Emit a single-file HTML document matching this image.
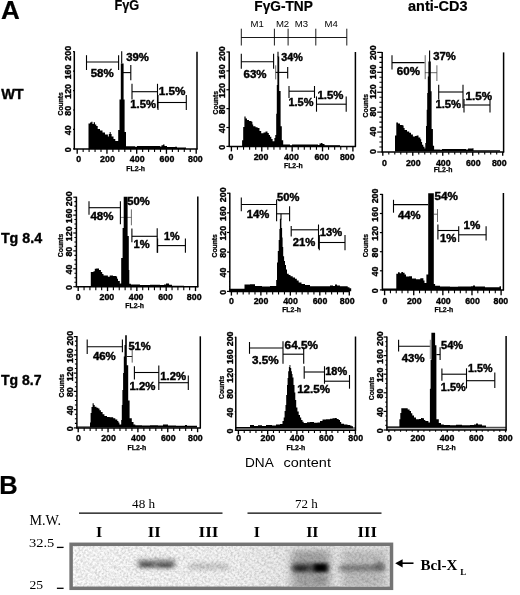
<!DOCTYPE html>
<html><head><meta charset="utf-8"><title>Figure</title>
<style>
html,body{margin:0;padding:0;background:#fff}
svg{display:block}
text{font-family:"Liberation Sans", sans-serif;fill:#000}
text.t{font-family:"Liberation Serif", serif}
</style></head><body>
<svg width="520" height="595" viewBox="0 0 520 595">
<rect width="520" height="595" fill="#fff"/>
<line x1="74.30" y1="51.20" x2="74.30" y2="149.40" stroke="#000" stroke-width="1.5"/>
<line x1="73.80" y1="148.90" x2="197.50" y2="148.90" stroke="#000" stroke-width="1.5"/>
<line x1="197.00" y1="51.70" x2="197.00" y2="149.40" stroke="#000" stroke-width="1.5"/>
<line x1="73.00" y1="148.90" x2="74.30" y2="148.90" stroke="#000" stroke-width="1.2"/>
<text x="71.40" y="149.70" font-size="8.8" font-weight="bold" text-anchor="middle" transform="rotate(-90 71.40 149.70)" stroke="#000" stroke-width="0.35">0</text>
<line x1="73.00" y1="129.46" x2="74.30" y2="129.46" stroke="#000" stroke-width="1.2"/>
<text x="71.40" y="130.26" font-size="8.8" font-weight="bold" text-anchor="middle" transform="rotate(-90 71.40 130.26)" stroke="#000" stroke-width="0.35">40</text>
<line x1="73.00" y1="110.02" x2="74.30" y2="110.02" stroke="#000" stroke-width="1.2"/>
<text x="71.40" y="110.82" font-size="8.8" font-weight="bold" text-anchor="middle" transform="rotate(-90 71.40 110.82)" stroke="#000" stroke-width="0.35">80</text>
<line x1="73.00" y1="90.58" x2="74.30" y2="90.58" stroke="#000" stroke-width="1.2"/>
<text x="71.40" y="91.38" font-size="8.8" font-weight="bold" text-anchor="middle" transform="rotate(-90 71.40 91.38)" stroke="#000" stroke-width="0.35">120</text>
<line x1="73.00" y1="71.14" x2="74.30" y2="71.14" stroke="#000" stroke-width="1.2"/>
<text x="71.40" y="71.94" font-size="8.8" font-weight="bold" text-anchor="middle" transform="rotate(-90 71.40 71.94)" stroke="#000" stroke-width="0.35">160</text>
<line x1="73.00" y1="51.70" x2="74.30" y2="51.70" stroke="#000" stroke-width="1.2"/>
<text x="71.40" y="53.30" font-size="8.8" font-weight="bold" text-anchor="middle" transform="rotate(-90 71.40 53.30)" stroke="#000" stroke-width="0.35">200</text>
<text x="63.40" y="103.80" font-size="6.8" font-weight="bold" text-anchor="middle" transform="rotate(-90 63.40 103.80)" stroke="#000" stroke-width="0.25">Counts</text>
<line x1="77.20" y1="148.90" x2="77.20" y2="153.80" stroke="#000" stroke-width="1.35"/>
<text x="78.80" y="162.00" font-size="8.8" font-weight="bold" text-anchor="middle" stroke="#000" stroke-width="0.35">0</text>
<line x1="106.95" y1="148.90" x2="106.95" y2="153.80" stroke="#000" stroke-width="1.35"/>
<text x="107.45" y="162.00" font-size="8.8" font-weight="bold" text-anchor="middle" stroke="#000" stroke-width="0.35">200</text>
<line x1="136.70" y1="148.90" x2="136.70" y2="153.80" stroke="#000" stroke-width="1.35"/>
<text x="137.20" y="162.00" font-size="8.8" font-weight="bold" text-anchor="middle" stroke="#000" stroke-width="0.35">400</text>
<line x1="166.45" y1="148.90" x2="166.45" y2="153.80" stroke="#000" stroke-width="1.35"/>
<text x="166.95" y="162.00" font-size="8.8" font-weight="bold" text-anchor="middle" stroke="#000" stroke-width="0.35">600</text>
<line x1="196.20" y1="148.90" x2="196.20" y2="153.80" stroke="#000" stroke-width="1.35"/>
<text x="195.40" y="162.00" font-size="8.8" font-weight="bold" text-anchor="middle" stroke="#000" stroke-width="0.35">800</text>
<path d="M83.15 148.90V151.90M89.10 148.90V151.90M95.05 148.90V151.90M101.00 148.90V151.90M112.90 148.90V151.90M118.85 148.90V151.90M124.80 148.90V151.90M130.75 148.90V151.90M142.65 148.90V151.90M148.60 148.90V151.90M154.55 148.90V151.90M160.50 148.90V151.90M172.40 148.90V151.90M178.35 148.90V151.90M184.30 148.90V151.90M190.25 148.90V151.90" stroke="#000" stroke-width="1.1" fill="none"/>
<text x="135.70" y="170.50" font-size="6.9" font-weight="bold" text-anchor="middle" stroke="#000" stroke-width="0.25">FL2-h</text>
<polygon fill="#000" points="88.5,148.9 88.5,123.6 90.0,123.6 90.0,122.5 91.3,122.5 91.3,121.7 92.5,121.7 92.5,124.0 93.7,124.0 93.7,122.3 95.0,122.3 95.0,124.5 96.3,124.5 96.3,126.0 97.7,126.0 97.7,129.1 100.0,129.1 100.0,130.5 102.5,130.5 102.5,132.5 105.0,132.5 105.0,134.5 107.9,134.5 107.9,136.5 108.8,136.5 108.8,134.0 109.7,134.0 109.7,131.9 110.7,131.9 110.7,134.0 111.6,134.0 111.6,136.5 113.5,136.5 113.5,139.0 115.3,139.0 115.3,141.1 118.2,141.1 118.2,130.0 119.5,130.0 119.5,99.5 120.8,99.5 120.8,63.5 123.6,63.5 123.6,99.5 124.6,99.5 124.6,131.9 126.0,131.9 126.0,146.3 135.0,146.3 135.0,146.8 137.0,146.8 137.0,146.0 160.0,146.0 160.0,146.5 161.5,146.5 161.5,145.3 163.0,145.3 163.0,144.6 164.5,144.6 164.5,146.0 167.0,146.0 167.0,147.0 175.0,147.0 175.0,146.8 177.0,146.8 177.0,147.5 186.0,147.5 186.0,148.9"/>
<line x1="86.50" y1="62.00" x2="118.60" y2="62.00" stroke="#000" stroke-width="1.1"/>
<line x1="86.50" y1="55.20" x2="86.50" y2="70.00" stroke="#000" stroke-width="1.1"/>
<line x1="118.60" y1="55.20" x2="118.60" y2="70.00" stroke="#000" stroke-width="1.1"/>
<line x1="121.70" y1="51.20" x2="121.70" y2="63.50" stroke="#000" stroke-width="1.1"/>
<line x1="121.70" y1="72.60" x2="130.80" y2="72.60" stroke="#000" stroke-width="1.1"/>
<line x1="130.80" y1="65.00" x2="130.80" y2="80.30" stroke="#000" stroke-width="1.1"/>
<line x1="132.00" y1="91.70" x2="157.50" y2="91.70" stroke="#000" stroke-width="1.1"/>
<line x1="132.00" y1="83.80" x2="132.00" y2="99.50" stroke="#000" stroke-width="1.1"/>
<line x1="157.50" y1="83.80" x2="157.50" y2="108.50" stroke="#000" stroke-width="1.1"/>
<line x1="158.00" y1="102.50" x2="186.30" y2="102.50" stroke="#000" stroke-width="1.1"/>
<line x1="158.00" y1="95.00" x2="158.00" y2="110.00" stroke="#000" stroke-width="1.1"/>
<line x1="186.30" y1="95.00" x2="186.30" y2="110.00" stroke="#000" stroke-width="1.1"/>
<text x="126.20" y="60.70" font-size="10.3" font-weight="bold" textLength="22.6" lengthAdjust="spacingAndGlyphs" stroke="#000" stroke-width="0.4">39%</text>
<text x="90.70" y="77.30" font-size="10.3" font-weight="bold" textLength="22.9" lengthAdjust="spacingAndGlyphs" stroke="#000" stroke-width="0.4">58%</text>
<text x="130.30" y="107.90" font-size="10.3" font-weight="bold" textLength="25.6" lengthAdjust="spacingAndGlyphs" stroke="#000" stroke-width="0.4">1.5%</text>
<text x="158.80" y="94.50" font-size="10.3" font-weight="bold" textLength="26.7" lengthAdjust="spacingAndGlyphs" stroke="#000" stroke-width="0.4">1.5%</text>
<line x1="229.20" y1="51.50" x2="229.20" y2="146.90" stroke="#000" stroke-width="1.5"/>
<line x1="228.70" y1="146.40" x2="355.90" y2="146.40" stroke="#000" stroke-width="1.5"/>
<line x1="355.40" y1="52.00" x2="355.40" y2="146.90" stroke="#000" stroke-width="1.5"/>
<line x1="226.40" y1="146.40" x2="229.20" y2="146.40" stroke="#000" stroke-width="1.2"/>
<text x="225.50" y="147.20" font-size="8.8" font-weight="bold" text-anchor="middle" transform="rotate(-90 225.50 147.20)" stroke="#000" stroke-width="0.35">0</text>
<line x1="226.40" y1="127.52" x2="229.20" y2="127.52" stroke="#000" stroke-width="1.2"/>
<text x="225.50" y="128.32" font-size="8.8" font-weight="bold" text-anchor="middle" transform="rotate(-90 225.50 128.32)" stroke="#000" stroke-width="0.35">40</text>
<line x1="226.40" y1="108.64" x2="229.20" y2="108.64" stroke="#000" stroke-width="1.2"/>
<text x="225.50" y="109.44" font-size="8.8" font-weight="bold" text-anchor="middle" transform="rotate(-90 225.50 109.44)" stroke="#000" stroke-width="0.35">80</text>
<line x1="226.40" y1="89.76" x2="229.20" y2="89.76" stroke="#000" stroke-width="1.2"/>
<text x="225.50" y="90.56" font-size="8.8" font-weight="bold" text-anchor="middle" transform="rotate(-90 225.50 90.56)" stroke="#000" stroke-width="0.35">120</text>
<line x1="226.40" y1="70.88" x2="229.20" y2="70.88" stroke="#000" stroke-width="1.2"/>
<text x="225.50" y="71.68" font-size="8.8" font-weight="bold" text-anchor="middle" transform="rotate(-90 225.50 71.68)" stroke="#000" stroke-width="0.35">160</text>
<line x1="226.40" y1="52.00" x2="229.20" y2="52.00" stroke="#000" stroke-width="1.2"/>
<text x="225.50" y="53.60" font-size="8.8" font-weight="bold" text-anchor="middle" transform="rotate(-90 225.50 53.60)" stroke="#000" stroke-width="0.35">200</text>
<text x="217.70" y="102.70" font-size="6.8" font-weight="bold" text-anchor="middle" transform="rotate(-90 217.70 102.70)" stroke="#000" stroke-width="0.25">Counts</text>
<line x1="231.40" y1="146.40" x2="231.40" y2="151.40" stroke="#000" stroke-width="1.35"/>
<text x="230.90" y="160.10" font-size="8.8" font-weight="bold" text-anchor="middle" stroke="#000" stroke-width="0.35">0</text>
<line x1="261.77" y1="146.40" x2="261.77" y2="151.40" stroke="#000" stroke-width="1.35"/>
<text x="261.07" y="160.10" font-size="8.8" font-weight="bold" text-anchor="middle" stroke="#000" stroke-width="0.35">200</text>
<line x1="292.15" y1="146.40" x2="292.15" y2="151.40" stroke="#000" stroke-width="1.35"/>
<text x="291.45" y="160.10" font-size="8.8" font-weight="bold" text-anchor="middle" stroke="#000" stroke-width="0.35">400</text>
<line x1="322.52" y1="146.40" x2="322.52" y2="151.40" stroke="#000" stroke-width="1.35"/>
<text x="321.82" y="160.10" font-size="8.8" font-weight="bold" text-anchor="middle" stroke="#000" stroke-width="0.35">600</text>
<line x1="352.90" y1="146.40" x2="352.90" y2="151.40" stroke="#000" stroke-width="1.35"/>
<text x="347.30" y="160.10" font-size="8.8" font-weight="bold" text-anchor="middle" stroke="#000" stroke-width="0.35">800</text>
<path d="M237.47 146.40V149.80M243.55 146.40V149.80M249.62 146.40V149.80M255.70 146.40V149.80M267.85 146.40V149.80M273.93 146.40V149.80M280.00 146.40V149.80M286.07 146.40V149.80M298.23 146.40V149.80M304.30 146.40V149.80M310.38 146.40V149.80M316.45 146.40V149.80M328.60 146.40V149.80M334.67 146.40V149.80M340.75 146.40V149.80M346.82 146.40V149.80" stroke="#000" stroke-width="1.1" fill="none"/>
<text x="293.35" y="168.40" font-size="6.9" font-weight="bold" text-anchor="middle" stroke="#000" stroke-width="0.25">FL2-h</text>
<polygon fill="#000" points="242.1,146.3 242.1,140.3 243.2,140.3 243.2,127.0 244.4,127.0 244.4,116.5 245.6,116.5 245.6,118.5 247.0,118.5 247.0,120.0 249.0,120.0 249.0,121.0 251.5,121.0 251.5,121.8 252.4,121.8 252.4,124.5 253.2,124.5 253.2,126.2 255.5,126.2 255.5,127.2 257.6,127.2 257.6,128.0 259.5,128.0 259.5,131.0 261.2,131.0 261.2,133.2 263.5,133.2 263.5,132.5 265.5,132.5 265.5,131.5 267.5,131.5 267.5,133.0 268.8,133.0 268.8,135.0 270.0,135.0 270.0,136.8 271.3,136.8 271.3,139.0 272.6,139.0 272.6,141.2 274.4,141.2 274.4,138.0 275.3,138.0 275.3,135.0 276.2,135.0 276.2,113.8 276.8,113.8 276.8,85.0 277.4,85.0 277.4,56.5 279.2,56.5 279.2,90.9 280.6,90.9 280.6,126.2 281.8,126.2 281.8,140.3 283.2,140.3 283.2,144.6 290.0,144.6 290.0,145.2 292.0,145.2 292.0,144.5 318.0,144.5 318.0,145.0 319.5,145.0 319.5,143.6 321.0,143.6 321.0,143.0 322.5,143.0 322.5,144.0 324.5,144.0 324.5,145.2 340.0,145.2 340.0,146.3"/>
<line x1="241.30" y1="37.50" x2="346.80" y2="37.50" stroke="#000" stroke-width="0.9"/>
<line x1="241.30" y1="28.70" x2="241.30" y2="45.50" stroke="#000" stroke-width="0.9"/>
<line x1="346.80" y1="28.70" x2="346.80" y2="45.50" stroke="#000" stroke-width="0.9"/>
<line x1="274.40" y1="28.70" x2="274.40" y2="45.50" stroke="#000" stroke-width="0.9"/>
<line x1="288.10" y1="28.70" x2="288.10" y2="45.50" stroke="#000" stroke-width="0.9"/>
<line x1="315.80" y1="28.70" x2="315.80" y2="45.50" stroke="#000" stroke-width="0.9"/>
<text x="250.60" y="26.60" font-size="9.3" textLength="13.3" lengthAdjust="spacingAndGlyphs">M1</text>
<text x="275.90" y="26.60" font-size="9.3" textLength="13.3" lengthAdjust="spacingAndGlyphs">M2</text>
<text x="294.80" y="26.60" font-size="9.3" textLength="13.3" lengthAdjust="spacingAndGlyphs">M3</text>
<text x="324.50" y="26.60" font-size="9.3" textLength="13.3" lengthAdjust="spacingAndGlyphs">M4</text>
<line x1="241.30" y1="61.80" x2="273.60" y2="61.80" stroke="#000" stroke-width="1.1"/>
<line x1="241.30" y1="53.80" x2="241.30" y2="68.80" stroke="#000" stroke-width="1.1"/>
<line x1="273.60" y1="53.80" x2="273.60" y2="68.80" stroke="#000" stroke-width="1.1"/>
<line x1="278.00" y1="51.80" x2="278.00" y2="57.00" stroke="#000" stroke-width="1.1"/>
<line x1="275.70" y1="65.30" x2="275.70" y2="79.40" stroke="#555" stroke-width="0.9"/>
<line x1="275.70" y1="72.40" x2="287.70" y2="72.40" stroke="#000" stroke-width="1.1"/>
<line x1="287.70" y1="67.00" x2="287.70" y2="78.50" stroke="#000" stroke-width="1.1"/>
<line x1="289.00" y1="91.20" x2="314.50" y2="91.20" stroke="#000" stroke-width="1.1"/>
<line x1="289.00" y1="86.00" x2="289.00" y2="98.00" stroke="#000" stroke-width="1.1"/>
<line x1="314.50" y1="86.00" x2="314.50" y2="98.00" stroke="#000" stroke-width="1.1"/>
<line x1="316.50" y1="104.20" x2="346.20" y2="104.20" stroke="#000" stroke-width="1.1"/>
<line x1="316.50" y1="96.40" x2="316.50" y2="111.70" stroke="#000" stroke-width="1.1"/>
<line x1="346.20" y1="96.40" x2="346.20" y2="111.70" stroke="#000" stroke-width="1.1"/>
<text x="281.30" y="60.50" font-size="10.3" font-weight="bold" textLength="21.5" lengthAdjust="spacingAndGlyphs" stroke="#000" stroke-width="0.4">34%</text>
<text x="243.50" y="77.50" font-size="10.3" font-weight="bold" textLength="23.0" lengthAdjust="spacingAndGlyphs" stroke="#000" stroke-width="0.4">63%</text>
<text x="288.40" y="106.00" font-size="10.3" font-weight="bold" textLength="25.0" lengthAdjust="spacingAndGlyphs" stroke="#000" stroke-width="0.4">1.5%</text>
<text x="317.40" y="98.50" font-size="10.3" font-weight="bold" textLength="26.0" lengthAdjust="spacingAndGlyphs" stroke="#000" stroke-width="0.4">1.5%</text>
<line x1="382.20" y1="51.90" x2="382.20" y2="152.50" stroke="#000" stroke-width="1.5"/>
<line x1="381.70" y1="152.00" x2="504.10" y2="152.00" stroke="#000" stroke-width="1.5"/>
<line x1="503.60" y1="52.40" x2="503.60" y2="152.50" stroke="#000" stroke-width="1.5"/>
<line x1="377.20" y1="152.00" x2="382.20" y2="152.00" stroke="#000" stroke-width="1.2"/>
<text x="375.70" y="151.50" font-size="8.8" font-weight="bold" text-anchor="middle" transform="rotate(-90 375.70 151.50)" stroke="#000" stroke-width="0.35">0</text>
<line x1="377.20" y1="132.08" x2="382.20" y2="132.08" stroke="#000" stroke-width="1.2"/>
<text x="375.70" y="131.58" font-size="8.8" font-weight="bold" text-anchor="middle" transform="rotate(-90 375.70 131.58)" stroke="#000" stroke-width="0.35">40</text>
<line x1="377.20" y1="112.16" x2="382.20" y2="112.16" stroke="#000" stroke-width="1.2"/>
<text x="375.70" y="111.66" font-size="8.8" font-weight="bold" text-anchor="middle" transform="rotate(-90 375.70 111.66)" stroke="#000" stroke-width="0.35">80</text>
<line x1="377.20" y1="92.24" x2="382.20" y2="92.24" stroke="#000" stroke-width="1.2"/>
<text x="375.70" y="91.74" font-size="8.8" font-weight="bold" text-anchor="middle" transform="rotate(-90 375.70 91.74)" stroke="#000" stroke-width="0.35">120</text>
<line x1="377.20" y1="72.32" x2="382.20" y2="72.32" stroke="#000" stroke-width="1.2"/>
<text x="375.70" y="71.82" font-size="8.8" font-weight="bold" text-anchor="middle" transform="rotate(-90 375.70 71.82)" stroke="#000" stroke-width="0.35">160</text>
<line x1="377.20" y1="52.40" x2="382.20" y2="52.40" stroke="#000" stroke-width="1.2"/>
<text x="375.70" y="52.70" font-size="8.8" font-weight="bold" text-anchor="middle" transform="rotate(-90 375.70 52.70)" stroke="#000" stroke-width="0.35">200</text>
<path d="M379.40 147.02H382.20 M379.40 142.04H382.20 M379.40 137.06H382.20 M379.40 127.10H382.20 M379.40 122.12H382.20 M379.40 117.14H382.20 M379.40 107.18H382.20 M379.40 102.20H382.20 M379.40 97.22H382.20 M379.40 87.26H382.20 M379.40 82.28H382.20 M379.40 77.30H382.20 M379.40 67.34H382.20 M379.40 62.36H382.20 M379.40 57.38H382.20" stroke="#000" stroke-width="1.1" fill="none"/>
<text x="368.20" y="105.70" font-size="6.8" font-weight="bold" text-anchor="middle" transform="rotate(-90 368.20 105.70)" stroke="#000" stroke-width="0.25">Counts</text>
<line x1="382.80" y1="152.00" x2="382.80" y2="155.80" stroke="#000" stroke-width="1.35"/>
<text x="384.40" y="165.50" font-size="8.8" font-weight="bold" text-anchor="middle" stroke="#000" stroke-width="0.35">0</text>
<line x1="412.77" y1="152.00" x2="412.77" y2="155.80" stroke="#000" stroke-width="1.35"/>
<text x="413.27" y="165.50" font-size="8.8" font-weight="bold" text-anchor="middle" stroke="#000" stroke-width="0.35">200</text>
<line x1="442.75" y1="152.00" x2="442.75" y2="155.80" stroke="#000" stroke-width="1.35"/>
<text x="443.25" y="165.50" font-size="8.8" font-weight="bold" text-anchor="middle" stroke="#000" stroke-width="0.35">400</text>
<line x1="472.73" y1="152.00" x2="472.73" y2="155.80" stroke="#000" stroke-width="1.35"/>
<text x="473.23" y="165.50" font-size="8.8" font-weight="bold" text-anchor="middle" stroke="#000" stroke-width="0.35">600</text>
<line x1="502.70" y1="152.00" x2="502.70" y2="155.80" stroke="#000" stroke-width="1.35"/>
<text x="499.30" y="165.50" font-size="8.8" font-weight="bold" text-anchor="middle" stroke="#000" stroke-width="0.35">800</text>
<path d="M388.80 152.00V154.60M394.79 152.00V154.60M400.79 152.00V154.60M406.78 152.00V154.60M418.77 152.00V154.60M424.76 152.00V154.60M430.76 152.00V154.60M436.75 152.00V154.60M448.75 152.00V154.60M454.74 152.00V154.60M460.74 152.00V154.60M466.73 152.00V154.60M478.72 152.00V154.60M484.72 152.00V154.60M490.71 152.00V154.60M496.70 152.00V154.60" stroke="#000" stroke-width="1.1" fill="none"/>
<text x="443.05" y="172.20" font-size="6.9" font-weight="bold" text-anchor="middle" stroke="#000" stroke-width="0.25">FL2-h</text>
<polygon fill="#000" points="395.0,151.6 395.0,135.6 396.3,135.6 396.3,122.6 398.0,122.6 398.0,123.5 400.0,123.5 400.0,124.9 402.7,124.9 402.7,125.4 403.6,125.4 403.6,128.0 404.6,128.0 404.6,130.0 407.0,130.0 407.0,131.5 409.2,131.5 409.2,132.8 411.0,132.8 411.0,134.5 412.9,134.5 412.9,136.5 415.0,136.5 415.0,136.0 416.6,136.0 416.6,135.6 418.5,135.6 418.5,137.5 420.3,137.5 420.3,139.3 421.2,139.3 421.2,142.0 422.1,142.0 422.1,144.8 423.3,144.8 423.3,146.8 424.5,146.8 424.5,148.5 425.3,148.5 425.3,143.0 426.0,143.0 426.0,126.0 426.7,126.0 426.7,109.7 427.2,109.7 427.2,93.0 427.8,93.0 427.8,76.4 428.4,76.4 428.4,61.6 430.8,61.6 430.8,91.2 431.6,91.2 431.6,129.0 432.9,129.0 432.9,145.7 434.1,145.7 434.1,149.4 440.0,149.4 440.0,149.8 442.0,149.8 442.0,149.0 466.0,149.0 466.0,149.4 468.0,149.4 468.0,148.4 472.5,148.4 472.5,148.2 473.5,148.2 473.5,150.3 500.0,150.3 500.0,151.6"/>
<line x1="392.00" y1="62.60" x2="424.60" y2="62.60" stroke="#000" stroke-width="1.1"/>
<line x1="392.00" y1="55.20" x2="392.00" y2="69.50" stroke="#000" stroke-width="1.1"/>
<line x1="425.20" y1="55.20" x2="425.20" y2="79.20" stroke="#444" stroke-width="0.8"/>
<line x1="429.60" y1="50.60" x2="429.60" y2="62.00" stroke="#000" stroke-width="1.1"/>
<line x1="425.20" y1="72.70" x2="436.90" y2="72.70" stroke="#000" stroke-width="0.6"/>
<line x1="436.90" y1="65.30" x2="436.90" y2="81.00" stroke="#444" stroke-width="0.8"/>
<line x1="438.70" y1="92.00" x2="463.00" y2="92.00" stroke="#000" stroke-width="1.1"/>
<line x1="438.70" y1="84.70" x2="438.70" y2="99.50" stroke="#000" stroke-width="1.1"/>
<line x1="463.00" y1="84.70" x2="463.00" y2="108.00" stroke="#000" stroke-width="1.1"/>
<line x1="464.00" y1="105.00" x2="490.00" y2="105.00" stroke="#000" stroke-width="1.1"/>
<line x1="464.00" y1="99.00" x2="464.00" y2="112.50" stroke="#000" stroke-width="1.1"/>
<line x1="490.00" y1="99.00" x2="490.00" y2="112.50" stroke="#000" stroke-width="1.1"/>
<text x="433.20" y="60.30" font-size="10.3" font-weight="bold" textLength="22.5" lengthAdjust="spacingAndGlyphs" stroke="#000" stroke-width="0.4">37%</text>
<text x="396.80" y="75.00" font-size="10.3" font-weight="bold" textLength="23.1" lengthAdjust="spacingAndGlyphs" stroke="#000" stroke-width="0.4">60%</text>
<text x="435.40" y="107.80" font-size="10.3" font-weight="bold" textLength="25.6" lengthAdjust="spacingAndGlyphs" stroke="#000" stroke-width="0.4">1.5%</text>
<text x="465.50" y="100.00" font-size="10.3" font-weight="bold" textLength="26.5" lengthAdjust="spacingAndGlyphs" stroke="#000" stroke-width="0.4">1.5%</text>
<line x1="76.40" y1="196.70" x2="76.40" y2="287.20" stroke="#000" stroke-width="1.5"/>
<line x1="75.90" y1="286.70" x2="198.30" y2="286.70" stroke="#000" stroke-width="1.5"/>
<line x1="197.80" y1="196.50" x2="197.80" y2="287.20" stroke="#000" stroke-width="1.5"/>
<line x1="73.30" y1="286.70" x2="76.40" y2="286.70" stroke="#000" stroke-width="1.2"/>
<text x="72.00" y="287.50" font-size="8.8" font-weight="bold" text-anchor="middle" transform="rotate(-90 72.00 287.50)" stroke="#000" stroke-width="0.35">0</text>
<line x1="73.30" y1="268.80" x2="76.40" y2="268.80" stroke="#000" stroke-width="1.2"/>
<text x="72.00" y="269.60" font-size="8.8" font-weight="bold" text-anchor="middle" transform="rotate(-90 72.00 269.60)" stroke="#000" stroke-width="0.35">40</text>
<line x1="73.30" y1="250.90" x2="76.40" y2="250.90" stroke="#000" stroke-width="1.2"/>
<text x="72.00" y="251.70" font-size="8.8" font-weight="bold" text-anchor="middle" transform="rotate(-90 72.00 251.70)" stroke="#000" stroke-width="0.35">80</text>
<line x1="73.30" y1="233.00" x2="76.40" y2="233.00" stroke="#000" stroke-width="1.2"/>
<text x="72.00" y="233.80" font-size="8.8" font-weight="bold" text-anchor="middle" transform="rotate(-90 72.00 233.80)" stroke="#000" stroke-width="0.35">120</text>
<line x1="73.30" y1="215.10" x2="76.40" y2="215.10" stroke="#000" stroke-width="1.2"/>
<text x="72.00" y="215.90" font-size="8.8" font-weight="bold" text-anchor="middle" transform="rotate(-90 72.00 215.90)" stroke="#000" stroke-width="0.35">160</text>
<line x1="73.30" y1="197.20" x2="76.40" y2="197.20" stroke="#000" stroke-width="1.2"/>
<text x="72.00" y="198.80" font-size="8.8" font-weight="bold" text-anchor="middle" transform="rotate(-90 72.00 198.80)" stroke="#000" stroke-width="0.35">200</text>
<path d="M74.40 282.22H76.40 M74.40 277.75H76.40 M74.40 273.27H76.40 M74.40 264.32H76.40 M74.40 259.85H76.40 M74.40 255.38H76.40 M74.40 246.42H76.40 M74.40 241.95H76.40 M74.40 237.47H76.40 M74.40 228.52H76.40 M74.40 224.05H76.40 M74.40 219.57H76.40 M74.40 210.62H76.40 M74.40 206.15H76.40 M74.40 201.67H76.40" stroke="#000" stroke-width="1.1" fill="none"/>
<text x="63.50" y="245.45" font-size="6.8" font-weight="bold" text-anchor="middle" transform="rotate(-90 63.50 245.45)" stroke="#000" stroke-width="0.25">Counts</text>
<line x1="78.20" y1="286.70" x2="78.20" y2="291.10" stroke="#000" stroke-width="1.35"/>
<text x="78.20" y="299.70" font-size="8.8" font-weight="bold" text-anchor="middle" stroke="#000" stroke-width="0.35">0</text>
<line x1="107.53" y1="286.70" x2="107.53" y2="291.10" stroke="#000" stroke-width="1.35"/>
<text x="106.83" y="299.70" font-size="8.8" font-weight="bold" text-anchor="middle" stroke="#000" stroke-width="0.35">200</text>
<line x1="136.85" y1="286.70" x2="136.85" y2="291.10" stroke="#000" stroke-width="1.35"/>
<text x="136.15" y="299.70" font-size="8.8" font-weight="bold" text-anchor="middle" stroke="#000" stroke-width="0.35">400</text>
<line x1="166.18" y1="286.70" x2="166.18" y2="291.10" stroke="#000" stroke-width="1.35"/>
<text x="165.48" y="299.70" font-size="8.8" font-weight="bold" text-anchor="middle" stroke="#000" stroke-width="0.35">600</text>
<line x1="195.50" y1="286.70" x2="195.50" y2="291.10" stroke="#000" stroke-width="1.35"/>
<text x="194.20" y="299.70" font-size="8.8" font-weight="bold" text-anchor="middle" stroke="#000" stroke-width="0.35">800</text>
<path d="M84.06 286.70V290.20M89.93 286.70V290.20M95.80 286.70V290.20M101.66 286.70V290.20M113.39 286.70V290.20M119.25 286.70V290.20M125.12 286.70V290.20M130.99 286.70V290.20M142.72 286.70V290.20M148.58 286.70V290.20M154.44 286.70V290.20M160.31 286.70V290.20M172.04 286.70V290.20M177.91 286.70V290.20M183.77 286.70V290.20M189.63 286.70V290.20" stroke="#000" stroke-width="1.1" fill="none"/>
<text x="134.65" y="307.70" font-size="6.9" font-weight="bold" text-anchor="middle" stroke="#000" stroke-width="0.25">FL2-h</text>
<polygon fill="#000" points="90.8,286.7 90.8,272.0 93.5,272.0 93.5,271.3 94.8,271.3 94.8,268.8 96.1,268.8 96.1,268.5 99.0,268.5 99.0,270.0 100.9,270.0 100.9,272.0 102.2,272.0 102.2,274.0 103.5,274.0 103.5,275.6 107.9,275.6 107.9,276.8 109.7,276.8 109.7,275.6 113.0,275.6 113.0,276.0 116.2,276.0 116.2,276.5 117.1,276.5 117.1,278.8 118.0,278.8 118.0,280.9 119.8,280.9 119.8,283.5 121.2,283.5 121.2,257.9 122.6,257.9 122.6,228.0 123.7,228.0 123.7,196.7 127.6,196.7 127.6,235.9 128.8,235.9 128.8,270.0 129.3,270.0 129.3,283.8 130.9,283.8 130.9,284.6 140.0,284.6 140.0,285.0 150.0,285.0 150.0,284.7 160.0,284.7 160.0,285.0 164.0,285.0 164.0,284.6 166.0,284.6 166.0,283.6 169.0,283.6 169.0,284.8 172.0,284.8 172.0,285.8 184.0,285.8 184.0,286.7"/>
<line x1="89.00" y1="207.70" x2="120.40" y2="207.70" stroke="#000" stroke-width="1.1"/>
<line x1="89.00" y1="201.30" x2="89.00" y2="214.80" stroke="#000" stroke-width="1.1"/>
<line x1="120.40" y1="201.30" x2="120.40" y2="224.30" stroke="#000" stroke-width="1.1"/>
<line x1="120.40" y1="217.40" x2="131.40" y2="217.40" stroke="#000" stroke-width="0.5"/>
<line x1="131.40" y1="209.40" x2="131.40" y2="225.30" stroke="#444" stroke-width="0.8"/>
<line x1="131.90" y1="236.30" x2="157.20" y2="236.30" stroke="#000" stroke-width="1.1"/>
<line x1="131.90" y1="228.60" x2="131.90" y2="242.30" stroke="#000" stroke-width="1.1"/>
<line x1="157.20" y1="228.30" x2="157.20" y2="252.80" stroke="#000" stroke-width="1.1"/>
<line x1="157.60" y1="245.60" x2="185.40" y2="245.60" stroke="#000" stroke-width="1.1"/>
<line x1="157.60" y1="238.40" x2="157.60" y2="252.80" stroke="#000" stroke-width="1.1"/>
<line x1="185.40" y1="238.40" x2="185.40" y2="252.80" stroke="#000" stroke-width="1.1"/>
<text x="127.30" y="205.00" font-size="10.3" font-weight="bold" textLength="22.5" lengthAdjust="spacingAndGlyphs" stroke="#000" stroke-width="0.4">50%</text>
<text x="90.40" y="219.80" font-size="10.3" font-weight="bold" textLength="23.0" lengthAdjust="spacingAndGlyphs" stroke="#000" stroke-width="0.4">48%</text>
<text x="133.50" y="247.50" font-size="10.3" font-weight="bold" textLength="16.1" lengthAdjust="spacingAndGlyphs" stroke="#000" stroke-width="0.4">1%</text>
<text x="164.00" y="240.40" font-size="10.3" font-weight="bold" textLength="15.6" lengthAdjust="spacingAndGlyphs" stroke="#000" stroke-width="0.4">1%</text>
<line x1="229.80" y1="192.70" x2="229.80" y2="291.90" stroke="#000" stroke-width="1.5"/>
<line x1="229.30" y1="291.40" x2="349.80" y2="291.40" stroke="#000" stroke-width="1.5"/>
<line x1="227.00" y1="291.40" x2="229.80" y2="291.40" stroke="#000" stroke-width="1.2"/>
<text x="226.00" y="292.20" font-size="8.8" font-weight="bold" text-anchor="middle" transform="rotate(-90 226.00 292.20)" stroke="#000" stroke-width="0.35">0</text>
<line x1="227.00" y1="271.76" x2="229.80" y2="271.76" stroke="#000" stroke-width="1.2"/>
<text x="226.00" y="272.56" font-size="8.8" font-weight="bold" text-anchor="middle" transform="rotate(-90 226.00 272.56)" stroke="#000" stroke-width="0.35">40</text>
<line x1="227.00" y1="252.12" x2="229.80" y2="252.12" stroke="#000" stroke-width="1.2"/>
<text x="226.00" y="252.92" font-size="8.8" font-weight="bold" text-anchor="middle" transform="rotate(-90 226.00 252.92)" stroke="#000" stroke-width="0.35">80</text>
<line x1="227.00" y1="232.48" x2="229.80" y2="232.48" stroke="#000" stroke-width="1.2"/>
<text x="226.00" y="233.28" font-size="8.8" font-weight="bold" text-anchor="middle" transform="rotate(-90 226.00 233.28)" stroke="#000" stroke-width="0.35">120</text>
<line x1="227.00" y1="212.84" x2="229.80" y2="212.84" stroke="#000" stroke-width="1.2"/>
<text x="226.00" y="213.64" font-size="8.8" font-weight="bold" text-anchor="middle" transform="rotate(-90 226.00 213.64)" stroke="#000" stroke-width="0.35">160</text>
<line x1="227.00" y1="193.20" x2="229.80" y2="193.20" stroke="#000" stroke-width="1.2"/>
<text x="226.00" y="194.80" font-size="8.8" font-weight="bold" text-anchor="middle" transform="rotate(-90 226.00 194.80)" stroke="#000" stroke-width="0.35">200</text>
<path d="M229.00 286.49H229.80 M229.00 281.58H229.80 M229.00 276.67H229.80 M229.00 266.85H229.80 M229.00 261.94H229.80 M229.00 257.03H229.80 M229.00 247.21H229.80 M229.00 242.30H229.80 M229.00 237.39H229.80 M229.00 227.57H229.80 M229.00 222.66H229.80 M229.00 217.75H229.80 M229.00 207.93H229.80 M229.00 203.02H229.80 M229.00 198.11H229.80" stroke="#000" stroke-width="1.1" fill="none"/>
<text x="217.30" y="245.80" font-size="6.8" font-weight="bold" text-anchor="middle" transform="rotate(-90 217.30 245.80)" stroke="#000" stroke-width="0.25">Counts</text>
<line x1="231.40" y1="291.40" x2="231.40" y2="295.60" stroke="#000" stroke-width="1.35"/>
<text x="231.40" y="303.60" font-size="8.8" font-weight="bold" text-anchor="middle" stroke="#000" stroke-width="0.35">0</text>
<line x1="260.88" y1="291.40" x2="260.88" y2="295.60" stroke="#000" stroke-width="1.35"/>
<text x="261.07" y="303.60" font-size="8.8" font-weight="bold" text-anchor="middle" stroke="#000" stroke-width="0.35">200</text>
<line x1="290.35" y1="291.40" x2="290.35" y2="295.60" stroke="#000" stroke-width="1.35"/>
<text x="290.55" y="303.60" font-size="8.8" font-weight="bold" text-anchor="middle" stroke="#000" stroke-width="0.35">400</text>
<line x1="319.82" y1="291.40" x2="319.82" y2="295.60" stroke="#000" stroke-width="1.35"/>
<text x="320.02" y="303.60" font-size="8.8" font-weight="bold" text-anchor="middle" stroke="#000" stroke-width="0.35">600</text>
<line x1="349.30" y1="291.40" x2="349.30" y2="295.60" stroke="#000" stroke-width="1.35"/>
<text x="347.20" y="303.60" font-size="8.8" font-weight="bold" text-anchor="middle" stroke="#000" stroke-width="0.35">800</text>
<path d="M237.30 291.40V294.40M243.19 291.40V294.40M249.09 291.40V294.40M254.98 291.40V294.40M266.77 291.40V294.40M272.67 291.40V294.40M278.56 291.40V294.40M284.46 291.40V294.40M296.25 291.40V294.40M302.14 291.40V294.40M308.04 291.40V294.40M313.93 291.40V294.40M325.72 291.40V294.40M331.62 291.40V294.40M337.51 291.40V294.40M343.40 291.40V294.40" stroke="#000" stroke-width="1.1" fill="none"/>
<text x="291.55" y="312.00" font-size="6.9" font-weight="bold" text-anchor="middle" stroke="#000" stroke-width="0.25">FL2-h</text>
<polygon fill="#000" points="229.3,291.2 229.3,288.8 244.5,288.8 244.5,284.5 250.0,284.5 250.0,284.2 255.0,284.2 255.0,286.0 262.0,286.0 262.0,286.4 270.0,286.4 270.0,286.0 276.2,286.0 276.2,280.0 277.0,280.0 277.0,262.5 277.8,262.5 277.8,251.0 278.7,251.0 278.7,240.0 279.4,240.0 279.4,229.0 279.9,229.0 279.9,218.7 281.4,218.7 281.4,228.0 282.1,228.0 282.1,237.5 282.6,237.5 282.6,247.0 283.2,247.0 283.2,256.2 284.1,256.2 284.1,261.0 285.0,261.0 285.0,265.0 286.0,265.0 286.0,269.5 287.0,269.5 287.0,273.7 288.7,273.7 288.7,275.0 290.5,275.0 290.5,276.2 292.7,276.2 292.7,277.5 295.0,277.5 295.0,278.7 296.8,278.7 296.8,280.6 298.7,280.6 298.7,282.5 301.5,282.5 301.5,284.0 305.0,284.0 305.0,285.0 310.0,285.0 310.0,286.2 330.0,286.2 330.0,285.6 333.0,285.6 333.0,286.0 335.0,286.0 335.0,284.5 337.0,284.5 337.0,285.5 340.0,285.5 340.0,286.2 347.7,286.2 347.7,287.2 349.5,287.2 349.5,288.2 351.2,288.2 351.2,291.2"/>
<line x1="241.30" y1="204.50" x2="276.60" y2="204.50" stroke="#000" stroke-width="1.1"/>
<line x1="241.30" y1="197.40" x2="241.30" y2="211.30" stroke="#000" stroke-width="1.1"/>
<line x1="276.60" y1="199.50" x2="276.60" y2="221.30" stroke="#000" stroke-width="1.1"/>
<line x1="276.60" y1="213.80" x2="289.60" y2="213.80" stroke="#000" stroke-width="1.1"/>
<line x1="289.60" y1="206.30" x2="289.60" y2="221.30" stroke="#000" stroke-width="1.1"/>
<line x1="281.00" y1="213.80" x2="281.00" y2="219.50" stroke="#000" stroke-width="1.1"/>
<line x1="291.20" y1="229.80" x2="318.50" y2="229.80" stroke="#000" stroke-width="1.1"/>
<line x1="291.20" y1="226.00" x2="291.20" y2="236.50" stroke="#000" stroke-width="1.1"/>
<line x1="318.50" y1="224.50" x2="318.50" y2="248.80" stroke="#000" stroke-width="1.1"/>
<line x1="319.30" y1="242.50" x2="345.00" y2="242.50" stroke="#000" stroke-width="1.1"/>
<line x1="319.30" y1="235.00" x2="319.30" y2="250.20" stroke="#000" stroke-width="1.1"/>
<line x1="345.00" y1="235.00" x2="345.00" y2="250.20" stroke="#000" stroke-width="1.1"/>
<text x="277.00" y="200.60" font-size="10.3" font-weight="bold" textLength="22.3" lengthAdjust="spacingAndGlyphs" stroke="#000" stroke-width="0.4">50%</text>
<text x="246.80" y="217.50" font-size="10.3" font-weight="bold" textLength="22.6" lengthAdjust="spacingAndGlyphs" stroke="#000" stroke-width="0.4">14%</text>
<text x="319.80" y="236.20" font-size="10.3" font-weight="bold" textLength="22.3" lengthAdjust="spacingAndGlyphs" stroke="#000" stroke-width="0.4">13%</text>
<text x="292.80" y="245.50" font-size="10.3" font-weight="bold" textLength="22.6" lengthAdjust="spacingAndGlyphs" stroke="#000" stroke-width="0.4">21%</text>
<line x1="382.40" y1="193.90" x2="382.40" y2="290.40" stroke="#000" stroke-width="1.5"/>
<line x1="381.90" y1="289.90" x2="503.90" y2="289.90" stroke="#000" stroke-width="1.5"/>
<line x1="503.40" y1="193.00" x2="503.40" y2="290.40" stroke="#000" stroke-width="1.5"/>
<line x1="379.90" y1="289.90" x2="382.40" y2="289.90" stroke="#000" stroke-width="1.2"/>
<text x="378.00" y="290.70" font-size="8.8" font-weight="bold" text-anchor="middle" transform="rotate(-90 378.00 290.70)" stroke="#000" stroke-width="0.35">0</text>
<line x1="379.90" y1="270.80" x2="382.40" y2="270.80" stroke="#000" stroke-width="1.2"/>
<text x="378.00" y="271.60" font-size="8.8" font-weight="bold" text-anchor="middle" transform="rotate(-90 378.00 271.60)" stroke="#000" stroke-width="0.35">40</text>
<line x1="379.90" y1="251.70" x2="382.40" y2="251.70" stroke="#000" stroke-width="1.2"/>
<text x="378.00" y="252.50" font-size="8.8" font-weight="bold" text-anchor="middle" transform="rotate(-90 378.00 252.50)" stroke="#000" stroke-width="0.35">80</text>
<line x1="379.90" y1="232.60" x2="382.40" y2="232.60" stroke="#000" stroke-width="1.2"/>
<text x="378.00" y="233.40" font-size="8.8" font-weight="bold" text-anchor="middle" transform="rotate(-90 378.00 233.40)" stroke="#000" stroke-width="0.35">120</text>
<line x1="379.90" y1="213.50" x2="382.40" y2="213.50" stroke="#000" stroke-width="1.2"/>
<text x="378.00" y="214.30" font-size="8.8" font-weight="bold" text-anchor="middle" transform="rotate(-90 378.00 214.30)" stroke="#000" stroke-width="0.35">160</text>
<line x1="379.90" y1="194.40" x2="382.40" y2="194.40" stroke="#000" stroke-width="1.2"/>
<text x="378.00" y="196.00" font-size="8.8" font-weight="bold" text-anchor="middle" transform="rotate(-90 378.00 196.00)" stroke="#000" stroke-width="0.35">200</text>
<text x="368.40" y="245.65" font-size="6.8" font-weight="bold" text-anchor="middle" transform="rotate(-90 368.40 245.65)" stroke="#000" stroke-width="0.25">Counts</text>
<line x1="384.60" y1="289.90" x2="384.60" y2="295.20" stroke="#000" stroke-width="1.35"/>
<text x="384.90" y="303.70" font-size="8.8" font-weight="bold" text-anchor="middle" stroke="#000" stroke-width="0.35">0</text>
<line x1="413.73" y1="289.90" x2="413.73" y2="295.20" stroke="#000" stroke-width="1.35"/>
<text x="414.23" y="303.70" font-size="8.8" font-weight="bold" text-anchor="middle" stroke="#000" stroke-width="0.35">200</text>
<line x1="442.85" y1="289.90" x2="442.85" y2="295.20" stroke="#000" stroke-width="1.35"/>
<text x="443.35" y="303.70" font-size="8.8" font-weight="bold" text-anchor="middle" stroke="#000" stroke-width="0.35">400</text>
<line x1="471.98" y1="289.90" x2="471.98" y2="295.20" stroke="#000" stroke-width="1.35"/>
<text x="472.48" y="303.70" font-size="8.8" font-weight="bold" text-anchor="middle" stroke="#000" stroke-width="0.35">600</text>
<line x1="501.10" y1="289.90" x2="501.10" y2="295.20" stroke="#000" stroke-width="1.35"/>
<text x="500.90" y="303.70" font-size="8.8" font-weight="bold" text-anchor="middle" stroke="#000" stroke-width="0.35">800</text>
<path d="M390.43 289.90V293.30M396.25 289.90V293.30M402.08 289.90V293.30M407.90 289.90V293.30M419.55 289.90V293.30M425.38 289.90V293.30M431.20 289.90V293.30M437.03 289.90V293.30M448.68 289.90V293.30M454.50 289.90V293.30M460.33 289.90V293.30M466.15 289.90V293.30M477.80 289.90V293.30M483.62 289.90V293.30M489.45 289.90V293.30M495.28 289.90V293.30" stroke="#000" stroke-width="1.1" fill="none"/>
<text x="443.85" y="311.70" font-size="6.9" font-weight="bold" text-anchor="middle" stroke="#000" stroke-width="0.25">FL2-h</text>
<polygon fill="#000" points="382.0,289.9 382.0,288.4 396.3,288.4 396.3,273.7 398.0,273.7 398.0,272.2 399.7,272.2 399.7,273.2 401.3,273.2 401.3,271.9 403.0,271.9 403.0,272.8 404.6,272.8 404.6,274.5 406.0,274.5 406.0,276.5 409.0,276.5 409.0,276.2 412.0,276.2 412.0,278.5 416.0,278.5 416.0,279.3 420.3,279.3 420.3,278.3 423.4,278.3 423.4,280.5 424.5,280.5 424.5,283.0 426.4,283.0 426.4,274.6 428.2,274.6 428.2,193.3 433.8,193.3 433.8,283.9 435.1,283.9 435.1,285.8 440.0,285.8 440.0,286.5 450.0,286.5 450.0,286.8 458.0,286.8 458.0,286.4 468.0,286.4 468.0,286.6 471.0,286.6 471.0,286.2 473.0,286.2 473.0,285.5 475.0,285.5 475.0,286.5 485.0,286.5 485.0,287.2 498.0,287.2 498.0,287.2 499.5,287.2 499.5,286.2 501.0,286.2 501.0,289.9"/>
<line x1="393.50" y1="204.60" x2="428.20" y2="204.60" stroke="#000" stroke-width="1.1"/>
<line x1="393.50" y1="199.80" x2="393.50" y2="212.70" stroke="#000" stroke-width="1.1"/>
<line x1="433.80" y1="214.20" x2="437.50" y2="214.20" stroke="#000" stroke-width="0.6"/>
<line x1="437.50" y1="209.00" x2="437.50" y2="222.00" stroke="#444" stroke-width="0.8"/>
<line x1="437.90" y1="230.50" x2="458.70" y2="230.50" stroke="#000" stroke-width="1.1"/>
<line x1="437.90" y1="224.50" x2="437.90" y2="239.50" stroke="#000" stroke-width="1.1"/>
<line x1="458.70" y1="226.20" x2="458.70" y2="242.00" stroke="#000" stroke-width="1.1"/>
<line x1="458.70" y1="234.80" x2="486.10" y2="234.80" stroke="#000" stroke-width="1.1"/>
<line x1="486.10" y1="226.20" x2="486.10" y2="240.60" stroke="#000" stroke-width="1.1"/>
<text x="434.50" y="200.00" font-size="10.3" font-weight="bold" textLength="23.4" lengthAdjust="spacingAndGlyphs" stroke="#000" stroke-width="0.4">54%</text>
<text x="398.00" y="218.50" font-size="10.3" font-weight="bold" textLength="22.6" lengthAdjust="spacingAndGlyphs" stroke="#000" stroke-width="0.4">44%</text>
<text x="463.60" y="228.50" font-size="10.3" font-weight="bold" textLength="16.8" lengthAdjust="spacingAndGlyphs" stroke="#000" stroke-width="0.4">1%</text>
<text x="439.90" y="242.40" font-size="10.3" font-weight="bold" textLength="16.4" lengthAdjust="spacingAndGlyphs" stroke="#000" stroke-width="0.4">1%</text>
<line x1="76.90" y1="336.10" x2="76.90" y2="428.40" stroke="#000" stroke-width="1.5"/>
<line x1="76.40" y1="427.90" x2="200.80" y2="427.90" stroke="#000" stroke-width="1.5"/>
<line x1="200.30" y1="336.30" x2="200.30" y2="428.40" stroke="#000" stroke-width="1.5"/>
<line x1="73.80" y1="427.90" x2="76.90" y2="427.90" stroke="#000" stroke-width="1.2"/>
<text x="72.70" y="428.70" font-size="8.8" font-weight="bold" text-anchor="middle" transform="rotate(-90 72.70 428.70)" stroke="#000" stroke-width="0.35">0</text>
<line x1="73.80" y1="409.64" x2="76.90" y2="409.64" stroke="#000" stroke-width="1.2"/>
<text x="72.70" y="410.44" font-size="8.8" font-weight="bold" text-anchor="middle" transform="rotate(-90 72.70 410.44)" stroke="#000" stroke-width="0.35">40</text>
<line x1="73.80" y1="391.38" x2="76.90" y2="391.38" stroke="#000" stroke-width="1.2"/>
<text x="72.70" y="392.18" font-size="8.8" font-weight="bold" text-anchor="middle" transform="rotate(-90 72.70 392.18)" stroke="#000" stroke-width="0.35">80</text>
<line x1="73.80" y1="373.12" x2="76.90" y2="373.12" stroke="#000" stroke-width="1.2"/>
<text x="72.70" y="373.92" font-size="8.8" font-weight="bold" text-anchor="middle" transform="rotate(-90 72.70 373.92)" stroke="#000" stroke-width="0.35">120</text>
<line x1="73.80" y1="354.86" x2="76.90" y2="354.86" stroke="#000" stroke-width="1.2"/>
<text x="72.70" y="355.66" font-size="8.8" font-weight="bold" text-anchor="middle" transform="rotate(-90 72.70 355.66)" stroke="#000" stroke-width="0.35">160</text>
<line x1="73.80" y1="336.60" x2="76.90" y2="336.60" stroke="#000" stroke-width="1.2"/>
<text x="72.70" y="338.20" font-size="8.8" font-weight="bold" text-anchor="middle" transform="rotate(-90 72.70 338.20)" stroke="#000" stroke-width="0.35">200</text>
<path d="M74.90 423.33H76.90 M74.90 418.77H76.90 M74.90 414.20H76.90 M74.90 405.07H76.90 M74.90 400.51H76.90 M74.90 395.94H76.90 M74.90 386.81H76.90 M74.90 382.25H76.90 M74.90 377.69H76.90 M74.90 368.56H76.90 M74.90 363.99H76.90 M74.90 359.43H76.90 M74.90 350.30H76.90 M74.90 345.73H76.90 M74.90 341.17H76.90" stroke="#000" stroke-width="1.1" fill="none"/>
<text x="64.40" y="385.75" font-size="6.8" font-weight="bold" text-anchor="middle" transform="rotate(-90 64.40 385.75)" stroke="#000" stroke-width="0.25">Counts</text>
<line x1="78.20" y1="427.90" x2="78.20" y2="432.20" stroke="#000" stroke-width="1.35"/>
<text x="78.50" y="440.50" font-size="8.8" font-weight="bold" text-anchor="middle" stroke="#000" stroke-width="0.35">0</text>
<line x1="108.05" y1="427.90" x2="108.05" y2="432.20" stroke="#000" stroke-width="1.35"/>
<text x="108.55" y="440.50" font-size="8.8" font-weight="bold" text-anchor="middle" stroke="#000" stroke-width="0.35">200</text>
<line x1="137.90" y1="427.90" x2="137.90" y2="432.20" stroke="#000" stroke-width="1.35"/>
<text x="138.40" y="440.50" font-size="8.8" font-weight="bold" text-anchor="middle" stroke="#000" stroke-width="0.35">400</text>
<line x1="167.75" y1="427.90" x2="167.75" y2="432.20" stroke="#000" stroke-width="1.35"/>
<text x="168.25" y="440.50" font-size="8.8" font-weight="bold" text-anchor="middle" stroke="#000" stroke-width="0.35">600</text>
<line x1="197.60" y1="427.90" x2="197.60" y2="432.20" stroke="#000" stroke-width="1.35"/>
<text x="195.40" y="440.50" font-size="8.8" font-weight="bold" text-anchor="middle" stroke="#000" stroke-width="0.35">800</text>
<path d="M84.17 427.90V431.10M90.14 427.90V431.10M96.11 427.90V431.10M102.08 427.90V431.10M114.02 427.90V431.10M119.99 427.90V431.10M125.96 427.90V431.10M131.93 427.90V431.10M143.87 427.90V431.10M149.84 427.90V431.10M155.81 427.90V431.10M161.78 427.90V431.10M173.72 427.90V431.10M179.69 427.90V431.10M185.66 427.90V431.10M191.63 427.90V431.10" stroke="#000" stroke-width="1.1" fill="none"/>
<text x="136.90" y="449.70" font-size="6.9" font-weight="bold" text-anchor="middle" stroke="#000" stroke-width="0.25">FL2-h</text>
<polygon fill="#000" points="76.5,427.6 76.5,426.6 90.0,426.6 90.0,422.6 90.6,422.6 90.6,413.0 91.5,413.0 91.5,407.0 92.6,407.0 92.6,403.2 93.7,403.2 93.7,405.0 94.7,405.0 94.7,406.8 96.5,406.8 96.5,407.8 98.2,407.8 98.2,408.5 99.5,408.5 99.5,410.3 100.9,410.3 100.9,412.0 102.6,412.0 102.6,414.2 104.4,414.2 104.4,416.1 107.0,416.1 107.0,416.9 109.7,416.9 109.7,417.3 113.2,417.3 113.2,418.2 115.3,418.2 115.3,419.6 117.3,419.6 117.3,420.9 118.4,420.9 118.4,422.6 119.4,422.6 119.4,424.4 121.2,424.4 121.2,420.0 121.8,420.0 121.8,405.0 122.4,405.0 122.4,390.0 123.1,390.0 123.1,373.0 123.8,373.0 123.8,356.5 124.5,356.5 124.5,345.0 125.2,345.0 125.2,335.3 126.8,335.3 126.8,365.3 128.2,365.3 128.2,400.6 129.6,400.6 129.6,418.2 131.8,418.2 131.8,422.0 133.5,422.0 133.5,424.4 135.3,424.4 135.3,425.3 142.0,425.3 142.0,425.6 150.0,425.6 150.0,425.2 158.0,425.2 158.0,425.5 163.0,425.5 163.0,424.6 168.0,424.6 168.0,425.4 176.0,425.4 176.0,425.8 185.0,425.8 185.0,424.9 187.0,424.9 187.0,425.8 197.0,425.8 197.0,427.6"/>
<line x1="87.20" y1="346.80" x2="122.40" y2="346.80" stroke="#000" stroke-width="1.1"/>
<line x1="87.20" y1="339.50" x2="87.20" y2="354.00" stroke="#000" stroke-width="1.1"/>
<line x1="122.40" y1="339.50" x2="122.40" y2="352.20" stroke="#000" stroke-width="1.1"/>
<line x1="126.80" y1="356.50" x2="132.20" y2="356.50" stroke="#000" stroke-width="0.9"/>
<line x1="132.20" y1="346.80" x2="132.20" y2="362.60" stroke="#333" stroke-width="0.8"/>
<line x1="134.40" y1="372.50" x2="158.80" y2="372.50" stroke="#000" stroke-width="1.1"/>
<line x1="134.40" y1="366.20" x2="134.40" y2="379.60" stroke="#000" stroke-width="1.1"/>
<line x1="158.80" y1="365.40" x2="158.80" y2="390.00" stroke="#000" stroke-width="1.1"/>
<line x1="158.80" y1="382.70" x2="188.30" y2="382.70" stroke="#000" stroke-width="1.1"/>
<line x1="188.30" y1="375.50" x2="188.30" y2="390.00" stroke="#000" stroke-width="1.1"/>
<text x="128.40" y="349.50" font-size="10.3" font-weight="bold" textLength="22.3" lengthAdjust="spacingAndGlyphs" stroke="#000" stroke-width="0.4">51%</text>
<text x="92.90" y="360.00" font-size="10.3" font-weight="bold" textLength="22.8" lengthAdjust="spacingAndGlyphs" stroke="#000" stroke-width="0.4">46%</text>
<text x="160.30" y="380.40" font-size="10.3" font-weight="bold" textLength="25.9" lengthAdjust="spacingAndGlyphs" stroke="#000" stroke-width="0.4">1.2%</text>
<text x="129.40" y="390.40" font-size="10.3" font-weight="bold" textLength="26.0" lengthAdjust="spacingAndGlyphs" stroke="#000" stroke-width="0.4">1.2%</text>
<rect x="235.5" y="428.0" width="120" height="2.6" fill="#c6c6c6"/>
<line x1="235.50" y1="427.90" x2="355.40" y2="427.90" stroke="#000" stroke-width="0.8"/>
<line x1="235.80" y1="336.80" x2="235.80" y2="430.80" stroke="#000" stroke-width="1.5"/>
<line x1="235.30" y1="430.30" x2="356.00" y2="430.30" stroke="#000" stroke-width="1.5"/>
<line x1="355.50" y1="336.50" x2="355.50" y2="430.80" stroke="#000" stroke-width="1.5"/>
<line x1="234.80" y1="430.30" x2="235.80" y2="430.30" stroke="#000" stroke-width="1.2"/>
<text x="233.30" y="431.10" font-size="8.8" font-weight="bold" text-anchor="middle" transform="rotate(-90 233.30 431.10)" stroke="#000" stroke-width="0.35">0</text>
<line x1="234.80" y1="411.70" x2="235.80" y2="411.70" stroke="#000" stroke-width="1.2"/>
<text x="233.30" y="412.50" font-size="8.8" font-weight="bold" text-anchor="middle" transform="rotate(-90 233.30 412.50)" stroke="#000" stroke-width="0.35">40</text>
<line x1="234.80" y1="393.10" x2="235.80" y2="393.10" stroke="#000" stroke-width="1.2"/>
<text x="233.30" y="393.90" font-size="8.8" font-weight="bold" text-anchor="middle" transform="rotate(-90 233.30 393.90)" stroke="#000" stroke-width="0.35">80</text>
<line x1="234.80" y1="374.50" x2="235.80" y2="374.50" stroke="#000" stroke-width="1.2"/>
<text x="233.30" y="375.30" font-size="8.8" font-weight="bold" text-anchor="middle" transform="rotate(-90 233.30 375.30)" stroke="#000" stroke-width="0.35">120</text>
<line x1="234.80" y1="355.90" x2="235.80" y2="355.90" stroke="#000" stroke-width="1.2"/>
<text x="233.30" y="356.70" font-size="8.8" font-weight="bold" text-anchor="middle" transform="rotate(-90 233.30 356.70)" stroke="#000" stroke-width="0.35">160</text>
<line x1="234.80" y1="337.30" x2="235.80" y2="337.30" stroke="#000" stroke-width="1.2"/>
<text x="233.30" y="338.90" font-size="8.8" font-weight="bold" text-anchor="middle" transform="rotate(-90 233.30 338.90)" stroke="#000" stroke-width="0.35">200</text>
<text x="224.30" y="387.30" font-size="6.8" font-weight="bold" text-anchor="middle" transform="rotate(-90 224.30 387.30)" stroke="#000" stroke-width="0.25">Counts</text>
<line x1="238.40" y1="430.30" x2="238.40" y2="434.50" stroke="#000" stroke-width="1.35"/>
<text x="238.70" y="441.00" font-size="8.8" font-weight="bold" text-anchor="middle" stroke="#000" stroke-width="0.35">0</text>
<line x1="267.65" y1="430.30" x2="267.65" y2="434.50" stroke="#000" stroke-width="1.35"/>
<text x="267.85" y="441.00" font-size="8.8" font-weight="bold" text-anchor="middle" stroke="#000" stroke-width="0.35">200</text>
<line x1="296.90" y1="430.30" x2="296.90" y2="434.50" stroke="#000" stroke-width="1.35"/>
<text x="297.10" y="441.00" font-size="8.8" font-weight="bold" text-anchor="middle" stroke="#000" stroke-width="0.35">400</text>
<line x1="326.15" y1="430.30" x2="326.15" y2="434.50" stroke="#000" stroke-width="1.35"/>
<text x="326.35" y="441.00" font-size="8.8" font-weight="bold" text-anchor="middle" stroke="#000" stroke-width="0.35">600</text>
<line x1="355.40" y1="430.30" x2="355.40" y2="434.50" stroke="#000" stroke-width="1.35"/>
<text x="355.70" y="441.00" font-size="8.8" font-weight="bold" text-anchor="middle" stroke="#000" stroke-width="0.35">800</text>
<path d="M244.25 430.30V433.10M250.10 430.30V433.10M255.95 430.30V433.10M261.80 430.30V433.10M273.50 430.30V433.10M279.35 430.30V433.10M285.20 430.30V433.10M291.05 430.30V433.10M302.75 430.30V433.10M308.60 430.30V433.10M314.45 430.30V433.10M320.30 430.30V433.10M332.00 430.30V433.10M337.85 430.30V433.10M343.70 430.30V433.10M349.55 430.30V433.10" stroke="#000" stroke-width="1.1" fill="none"/>
<text x="295.90" y="450.30" font-size="6.9" font-weight="bold" text-anchor="middle" stroke="#000" stroke-width="0.25">FL2-h</text>
<polygon fill="#000" points="235.5,428.2 235.5,427.0 250.0,427.0 250.0,425.0 254.0,425.0 254.0,426.0 258.0,426.0 258.0,425.3 262.0,425.3 262.0,426.0 266.0,426.0 266.0,425.0 272.0,425.0 272.0,425.5 276.0,425.5 276.0,424.6 280.0,424.6 280.0,424.0 282.5,424.0 282.5,421.0 283.7,421.0 283.7,417.5 284.6,417.5 284.6,411.0 285.5,411.0 285.5,405.0 286.2,405.0 286.2,395.0 287.0,395.0 287.0,385.0 287.6,385.0 287.6,378.0 288.2,378.0 288.2,371.2 288.9,371.2 288.9,367.0 289.5,367.0 289.5,365.0 290.4,365.0 290.4,368.0 291.2,368.0 291.2,371.2 291.9,371.2 291.9,374.0 292.5,374.0 292.5,377.5 293.5,377.5 293.5,385.0 294.5,385.0 294.5,392.5 295.3,392.5 295.3,400.0 296.2,400.0 296.2,407.5 297.4,407.5 297.4,411.5 298.7,411.5 298.7,415.0 300.0,415.0 300.0,417.5 301.2,417.5 301.2,420.0 302.5,420.0 302.5,421.8 303.7,421.8 303.7,423.0 307.0,423.0 307.0,422.3 310.0,422.3 310.0,422.0 314.0,422.0 314.0,422.8 317.5,422.8 317.5,422.5 320.0,422.5 320.0,421.0 322.5,421.0 322.5,419.5 326.0,419.5 326.0,419.2 330.0,419.2 330.0,418.7 332.5,418.7 332.5,418.2 335.0,418.2 335.0,418.0 336.8,418.0 336.8,419.0 338.7,419.0 338.7,420.0 340.0,420.0 340.0,422.0 341.2,422.0 341.2,423.7 344.0,423.7 344.0,424.4 347.5,424.4 347.5,425.0 350.0,425.0 350.0,425.6 351.5,425.6 351.5,426.2 353.0,426.2 353.0,428.2"/>
<line x1="249.50" y1="348.00" x2="283.00" y2="348.00" stroke="#000" stroke-width="1.1"/>
<line x1="249.50" y1="342.00" x2="249.50" y2="353.80" stroke="#000" stroke-width="1.1"/>
<line x1="283.00" y1="341.20" x2="283.00" y2="363.70" stroke="#000" stroke-width="1.1"/>
<line x1="283.00" y1="354.20" x2="303.70" y2="354.20" stroke="#000" stroke-width="1.1"/>
<line x1="303.70" y1="348.70" x2="303.70" y2="363.70" stroke="#000" stroke-width="1.1"/>
<line x1="304.20" y1="372.00" x2="324.50" y2="372.00" stroke="#000" stroke-width="1.1"/>
<line x1="304.20" y1="366.20" x2="304.20" y2="378.70" stroke="#000" stroke-width="1.1"/>
<line x1="324.50" y1="366.20" x2="324.50" y2="383.70" stroke="#000" stroke-width="1.1"/>
<line x1="324.50" y1="381.20" x2="349.50" y2="381.20" stroke="#000" stroke-width="1.1"/>
<line x1="349.50" y1="375.00" x2="349.50" y2="388.70" stroke="#000" stroke-width="1.1"/>
<text x="284.60" y="348.70" font-size="10.3" font-weight="bold" textLength="33.4" lengthAdjust="spacingAndGlyphs" stroke="#000" stroke-width="0.4">64.5%</text>
<text x="252.00" y="363.70" font-size="10.3" font-weight="bold" textLength="26.7" lengthAdjust="spacingAndGlyphs" stroke="#000" stroke-width="0.4">3.5%</text>
<text x="325.30" y="374.50" font-size="10.3" font-weight="bold" textLength="21.8" lengthAdjust="spacingAndGlyphs" stroke="#000" stroke-width="0.4">18%</text>
<text x="297.20" y="392.50" font-size="10.3" font-weight="bold" textLength="32.8" lengthAdjust="spacingAndGlyphs" stroke="#000" stroke-width="0.4">12.5%</text>
<rect x="386.8" y="427.4" width="119.3" height="2.4" fill="#b8b8b8"/>
<line x1="386.80" y1="427.30" x2="506.10" y2="427.30" stroke="#000" stroke-width="0.8"/>
<line x1="386.90" y1="336.50" x2="386.90" y2="430.50" stroke="#000" stroke-width="1.5"/>
<line x1="386.40" y1="430.00" x2="506.60" y2="430.00" stroke="#000" stroke-width="1.5"/>
<line x1="506.10" y1="336.00" x2="506.10" y2="430.50" stroke="#000" stroke-width="1.5"/>
<line x1="383.60" y1="430.00" x2="386.90" y2="430.00" stroke="#000" stroke-width="1.2"/>
<text x="382.70" y="430.80" font-size="8.8" font-weight="bold" text-anchor="middle" transform="rotate(-90 382.70 430.80)" stroke="#000" stroke-width="0.35">0</text>
<line x1="383.60" y1="411.40" x2="386.90" y2="411.40" stroke="#000" stroke-width="1.2"/>
<text x="382.70" y="412.20" font-size="8.8" font-weight="bold" text-anchor="middle" transform="rotate(-90 382.70 412.20)" stroke="#000" stroke-width="0.35">40</text>
<line x1="383.60" y1="392.80" x2="386.90" y2="392.80" stroke="#000" stroke-width="1.2"/>
<text x="382.70" y="393.60" font-size="8.8" font-weight="bold" text-anchor="middle" transform="rotate(-90 382.70 393.60)" stroke="#000" stroke-width="0.35">80</text>
<line x1="383.60" y1="374.20" x2="386.90" y2="374.20" stroke="#000" stroke-width="1.2"/>
<text x="382.70" y="375.00" font-size="8.8" font-weight="bold" text-anchor="middle" transform="rotate(-90 382.70 375.00)" stroke="#000" stroke-width="0.35">120</text>
<line x1="383.60" y1="355.60" x2="386.90" y2="355.60" stroke="#000" stroke-width="1.2"/>
<text x="382.70" y="356.40" font-size="8.8" font-weight="bold" text-anchor="middle" transform="rotate(-90 382.70 356.40)" stroke="#000" stroke-width="0.35">160</text>
<line x1="383.60" y1="337.00" x2="386.90" y2="337.00" stroke="#000" stroke-width="1.2"/>
<text x="382.70" y="338.60" font-size="8.8" font-weight="bold" text-anchor="middle" transform="rotate(-90 382.70 338.60)" stroke="#000" stroke-width="0.35">200</text>
<path d="M385.40 425.35H386.90 M385.40 420.70H386.90 M385.40 416.05H386.90 M385.40 406.75H386.90 M385.40 402.10H386.90 M385.40 397.45H386.90 M385.40 388.15H386.90 M385.40 383.50H386.90 M385.40 378.85H386.90 M385.40 369.55H386.90 M385.40 364.90H386.90 M385.40 360.25H386.90 M385.40 350.95H386.90 M385.40 346.30H386.90 M385.40 341.65H386.90" stroke="#000" stroke-width="1.1" fill="none"/>
<text x="373.90" y="388.50" font-size="6.8" font-weight="bold" text-anchor="middle" transform="rotate(-90 373.90 388.50)" stroke="#000" stroke-width="0.25">Counts</text>
<line x1="388.90" y1="430.00" x2="388.90" y2="432.30" stroke="#000" stroke-width="1.35"/>
<text x="389.10" y="441.30" font-size="8.8" font-weight="bold" text-anchor="middle" stroke="#000" stroke-width="0.35">0</text>
<line x1="418.07" y1="430.00" x2="418.07" y2="432.30" stroke="#000" stroke-width="1.35"/>
<text x="417.88" y="441.30" font-size="8.8" font-weight="bold" text-anchor="middle" stroke="#000" stroke-width="0.35">200</text>
<line x1="447.25" y1="430.00" x2="447.25" y2="432.30" stroke="#000" stroke-width="1.35"/>
<text x="447.05" y="441.30" font-size="8.8" font-weight="bold" text-anchor="middle" stroke="#000" stroke-width="0.35">400</text>
<line x1="476.43" y1="430.00" x2="476.43" y2="432.30" stroke="#000" stroke-width="1.35"/>
<text x="476.23" y="441.30" font-size="8.8" font-weight="bold" text-anchor="middle" stroke="#000" stroke-width="0.35">600</text>
<line x1="505.60" y1="430.00" x2="505.60" y2="432.30" stroke="#000" stroke-width="1.35"/>
<text x="505.30" y="441.30" font-size="8.8" font-weight="bold" text-anchor="middle" stroke="#000" stroke-width="0.35">800</text>
<path d="M394.73 430.00V431.70M400.57 430.00V431.70M406.40 430.00V431.70M412.24 430.00V431.70M423.91 430.00V431.70M429.75 430.00V431.70M435.58 430.00V431.70M441.42 430.00V431.70M453.09 430.00V431.70M458.92 430.00V431.70M464.75 430.00V431.70M470.59 430.00V431.70M482.26 430.00V431.70M488.10 430.00V431.70M493.93 430.00V431.70M499.77 430.00V431.70" stroke="#000" stroke-width="1.1" fill="none"/>
<text x="446.45" y="450.20" font-size="6.9" font-weight="bold" text-anchor="middle" stroke="#000" stroke-width="0.25">FL2-h</text>
<polygon fill="#000" points="386.8,427.6 386.8,426.5 399.4,426.5 399.4,419.3 400.3,419.3 400.3,413.0 401.3,413.0 401.3,408.2 407.7,408.2 407.7,409.5 409.6,409.5 409.6,411.0 411.0,411.0 411.0,413.3 412.3,413.3 412.3,415.6 414.0,415.6 414.0,417.5 416.0,417.5 416.0,419.3 419.0,419.3 419.0,419.0 421.0,419.0 421.0,418.0 422.5,418.0 422.5,418.3 424.0,418.3 424.0,420.0 425.3,420.0 425.3,421.1 428.4,421.1 428.4,422.6 429.9,422.6 429.9,388.8 430.6,388.8 430.6,360.0 431.4,360.0 431.4,332.8 435.1,332.8 435.1,345.3 436.4,345.3 436.4,419.3 438.8,419.3 438.8,423.0 441.0,423.0 441.0,424.4 443.8,424.4 443.8,425.0 450.0,425.0 450.0,425.3 456.0,425.3 456.0,424.8 462.0,424.8 462.0,425.2 470.0,425.2 470.0,425.0 474.0,425.0 474.0,424.6 476.0,424.6 476.0,423.6 478.0,423.6 478.0,424.6 482.0,424.6 482.0,425.4 486.0,425.4 486.0,427.6"/>
<line x1="398.60" y1="346.30" x2="430.30" y2="346.30" stroke="#000" stroke-width="1.1"/>
<line x1="398.60" y1="339.80" x2="398.60" y2="351.50" stroke="#000" stroke-width="1.1"/>
<line x1="430.30" y1="339.80" x2="430.30" y2="359.20" stroke="#888" stroke-width="1.0"/>
<line x1="436.40" y1="354.60" x2="440.10" y2="354.60" stroke="#000" stroke-width="1.1"/>
<line x1="440.10" y1="347.20" x2="440.10" y2="360.10" stroke="#000" stroke-width="1.1"/>
<line x1="441.90" y1="374.20" x2="466.50" y2="374.20" stroke="#000" stroke-width="1.1"/>
<line x1="441.90" y1="368.40" x2="441.90" y2="380.80" stroke="#000" stroke-width="1.1"/>
<line x1="466.50" y1="368.30" x2="466.50" y2="388.50" stroke="#000" stroke-width="1.1"/>
<line x1="466.50" y1="380.70" x2="494.80" y2="380.70" stroke="#000" stroke-width="1.1"/>
<line x1="494.80" y1="372.60" x2="494.80" y2="388.00" stroke="#000" stroke-width="1.1"/>
<text x="441.00" y="349.40" font-size="10.3" font-weight="bold" textLength="22.2" lengthAdjust="spacingAndGlyphs" stroke="#000" stroke-width="0.4">54%</text>
<text x="401.80" y="362.10" font-size="10.3" font-weight="bold" textLength="22.7" lengthAdjust="spacingAndGlyphs" stroke="#000" stroke-width="0.4">43%</text>
<text x="468.00" y="371.70" font-size="10.3" font-weight="bold" textLength="24.5" lengthAdjust="spacingAndGlyphs" stroke="#000" stroke-width="0.4">1.5%</text>
<text x="440.80" y="390.60" font-size="10.3" font-weight="bold" textLength="25.0" lengthAdjust="spacingAndGlyphs" stroke="#000" stroke-width="0.4">1.5%</text>
<text x="0.90" y="18.60" font-size="26" font-weight="bold" stroke="#000" stroke-width="0.2">A</text>
<text x="114.40" y="10.40" font-size="14.5" font-weight="bold" textLength="24.8" lengthAdjust="spacingAndGlyphs" stroke="#000" stroke-width="0.2">FγG</text>
<text x="254.30" y="10.60" font-size="14.5" font-weight="bold" textLength="58.6" lengthAdjust="spacingAndGlyphs" stroke="#000" stroke-width="0.2">FγG-TNP</text>
<text x="408.00" y="10.70" font-size="14.5" font-weight="bold" textLength="59.5" lengthAdjust="spacingAndGlyphs" stroke="#000" stroke-width="0.2">anti-CD3</text>
<text x="1.20" y="98.70" font-size="14" font-weight="bold" textLength="22.5" lengthAdjust="spacingAndGlyphs" stroke="#000" stroke-width="0.35">WT</text>
<text x="0.90" y="243.00" font-size="14" font-weight="bold" textLength="41.2" lengthAdjust="spacingAndGlyphs" stroke="#000" stroke-width="0.35">Tg 8.4</text>
<text x="0.90" y="385.40" font-size="14" font-weight="bold" textLength="40.6" lengthAdjust="spacingAndGlyphs" stroke="#000" stroke-width="0.35">Tg 8.7</text>
<text x="245.00" y="467.30" font-size="13.2" textLength="28.8" lengthAdjust="spacingAndGlyphs">DNA</text>
<text x="283.50" y="467.30" font-size="13.2" textLength="47.4" lengthAdjust="spacingAndGlyphs">content</text>
<text x="-0.80" y="493.60" font-size="25.5" font-weight="bold" stroke="#000" stroke-width="0.2">B</text>
<line x1="79.00" y1="513.10" x2="222.50" y2="513.10" stroke="#000" stroke-width="1.2"/>
<line x1="247.50" y1="513.10" x2="381.50" y2="513.10" stroke="#000" stroke-width="1.2"/>
<text x="132.10" y="507.90" font-size="13.5" textLength="23.1" lengthAdjust="spacingAndGlyphs" class="t">48 h</text>
<text x="295.00" y="507.90" font-size="13.5" textLength="22.8" lengthAdjust="spacingAndGlyphs" class="t">72 h</text>
<text x="96.00" y="536.50" font-size="15.3" font-weight="bold" textLength="6.2" lengthAdjust="spacingAndGlyphs" class="t">I</text>
<text x="147.70" y="536.50" font-size="15.3" font-weight="bold" textLength="12.9" lengthAdjust="spacingAndGlyphs" class="t">II</text>
<text x="198.50" y="536.50" font-size="15.3" font-weight="bold" textLength="20.0" lengthAdjust="spacingAndGlyphs" class="t">III</text>
<text x="253.80" y="536.50" font-size="15.3" font-weight="bold" textLength="6.2" lengthAdjust="spacingAndGlyphs" class="t">I</text>
<text x="306.20" y="536.50" font-size="15.3" font-weight="bold" textLength="12.3" lengthAdjust="spacingAndGlyphs" class="t">II</text>
<text x="357.50" y="536.50" font-size="15.3" font-weight="bold" textLength="19.4" lengthAdjust="spacingAndGlyphs" class="t">III</text>
<text x="29.50" y="525.40" font-size="13.6" textLength="31.6" lengthAdjust="spacingAndGlyphs" class="t">M.W.</text>
<text x="29.00" y="546.90" font-size="13.5" textLength="25.3" lengthAdjust="spacingAndGlyphs" class="t">32.5</text>
<text x="29.50" y="588.60" font-size="13.5" textLength="13.6" lengthAdjust="spacingAndGlyphs" class="t">25</text>
<line x1="56.90" y1="547.40" x2="63.60" y2="547.40" stroke="#000" stroke-width="1.3"/>
<line x1="56.90" y1="588.30" x2="63.60" y2="588.30" stroke="#000" stroke-width="1.3"/>
<defs>
<clipPath id="bc"><rect x="72.8" y="545.9" width="317" height="40.8"/></clipPath>
<filter id="b1" x="-30%" y="-150%" width="160%" height="400%"><feGaussianBlur stdDeviation="2.8 2.3"/></filter>
<filter id="b2" x="-30%" y="-100%" width="160%" height="300%"><feGaussianBlur stdDeviation="4 3"/></filter>
<filter id="b3" x="-40%" y="-100%" width="180%" height="300%"><feGaussianBlur stdDeviation="2.2 1.4"/></filter>
<filter id="nz" x="0" y="0" width="100%" height="100%"><feTurbulence type="fractalNoise" baseFrequency="0.42" numOctaves="2" seed="7" result="n"/><feColorMatrix in="n" type="matrix" values="0 0 0 0 0  0 0 0 0 0  0 0 0 0 0  0.9 0 0 0 -0.33"/></filter>
<linearGradient id="bg" x1="0" x2="1" y1="0" y2="0"><stop offset="0" stop-color="#fdfdfd"/><stop offset="0.5" stop-color="#f8f8f8"/><stop offset="0.66" stop-color="#eeeeee"/><stop offset="1" stop-color="#eaeaea"/></linearGradient>
</defs>
<rect x="71.1" y="544.3" width="320.4" height="44" fill="url(#bg)" stroke="#747474" stroke-width="3.5"/>
<g clip-path="url(#bc)">
<rect x="292" y="550" width="38" height="40" fill="#a8a8a8" filter="url(#b2)"/>
<rect x="342" y="550" width="44" height="39" fill="#c4c4c4" filter="url(#b2)"/>
<rect x="138" y="559.5" width="37" height="8.5" fill="#8a8a8a" filter="url(#b1)"/>
<rect x="141" y="563.2" width="12" height="3.2" fill="#555" filter="url(#b3)"/>
<rect x="158" y="563.8" width="14" height="3.2" fill="#555" filter="url(#b3)"/>
<rect x="189" y="563" width="40" height="7" fill="#d0d0d0" filter="url(#b1)"/>
<rect x="292" y="563.5" width="36" height="8.5" fill="#505050" filter="url(#b1)"/>
<rect x="296" y="566" width="11" height="4.5" fill="#2a2a2a" filter="url(#b3)"/>
<rect x="314" y="564" width="13" height="7.5" fill="#050505" filter="url(#b3)"/>
<rect x="340" y="565" width="44" height="6" fill="#7c7c7c" filter="url(#b1)"/>
<rect x="375" y="563" width="8" height="6" fill="#666" filter="url(#b1)"/>
<rect x="316" y="578" width="10" height="3.5" fill="#8a8a8a" filter="url(#b1)"/>
<rect x="346" y="577" width="34" height="3.5" fill="#c0c0c0" filter="url(#b1)"/>
<rect x="72" y="545" width="319" height="43" fill="#fff" filter="url(#nz)" opacity="0.4"/>
<rect x="72" y="545" width="319" height="43" fill="#777" filter="url(#nz)" opacity="0.13" transform="translate(3 2)"/>
</g>
<line x1="401.50" y1="563.20" x2="413.50" y2="563.20" stroke="#000" stroke-width="1.6"/>
<polygon fill="#000" points="395.2,563.3 402.6,559.2 402.6,567.5"/>
<text x="420.50" y="569.60" font-size="15" font-weight="bold" textLength="36.8" lengthAdjust="spacingAndGlyphs" class="t">Bcl-X</text>
<text x="460.30" y="574.80" font-size="9" font-weight="bold" class="t">L</text>
</svg>
</body></html>
